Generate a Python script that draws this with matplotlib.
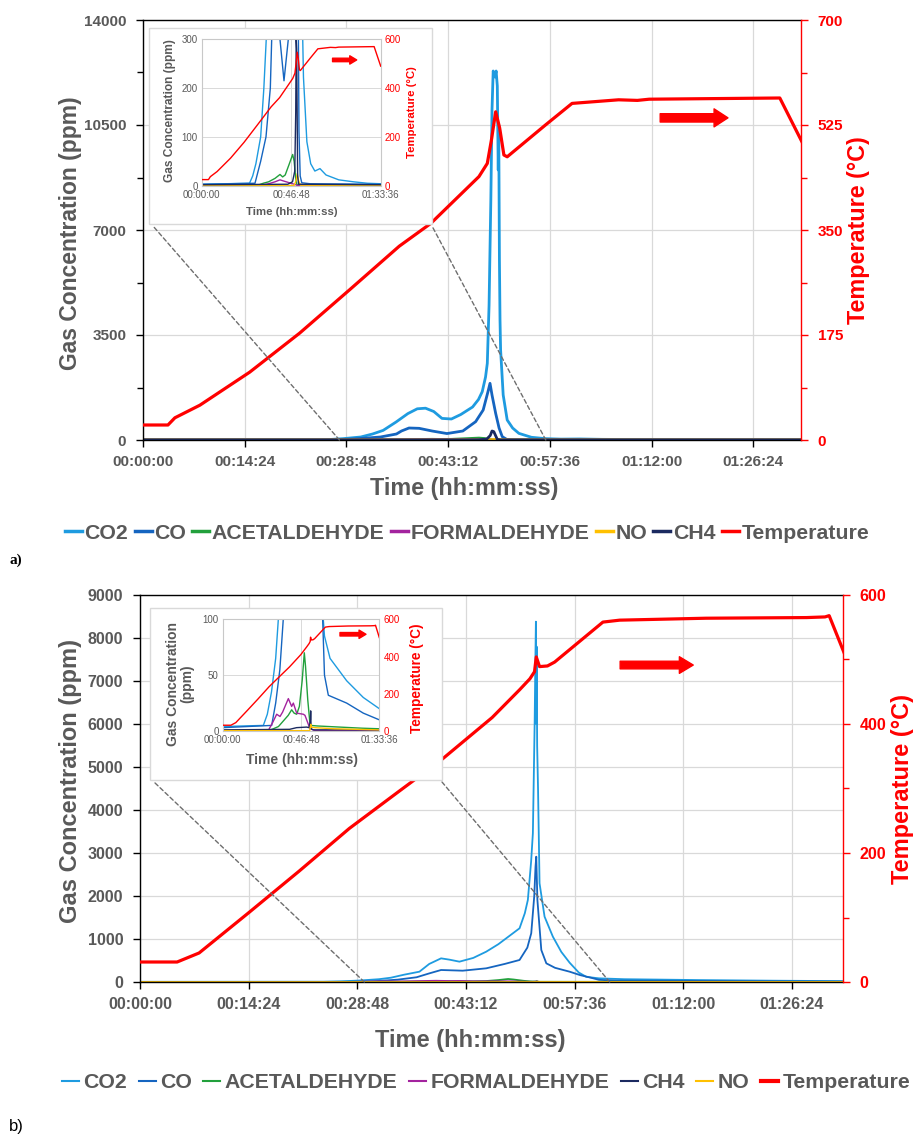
import matplotlib
matplotlib.use('Agg')
import matplotlib.pyplot as plt
from matplotlib.patches import Rectangle, ConnectionPatch
from matplotlib.lines import Line2D

# ---------------- DATA (time in seconds) ----------------
# Panel a
temp_a_t = [0, 212, 271, 483, 906, 1330, 1753, 2177, 2445, 2854, 2925, 2960, 2996, 3030, 3066, 3094,
            3419, 3645, 4040, 4200, 4300, 5410, 5616]
temp_a_v = [25, 25, 37, 58, 113, 178, 250, 323, 361, 439, 461, 500, 547, 520, 475, 472,
            525, 561, 567, 566, 568, 570, 490]

co2_a_t = [0, 1500, 1600, 1700, 1850, 1950, 2040, 2150, 2250, 2330, 2400, 2470, 2540, 2620, 2700,
           2800, 2850, 2882, 2910, 2925, 2940, 2955, 2965, 2975, 2990, 3000, 3010, 3018, 3022, 3028,
           3033, 3038, 3060, 3094, 3140, 3193, 3300, 3420, 3550, 3711, 3900, 4300, 4760, 5200, 5616]
co2_a_v = [3, 5, 20, 45, 100, 200, 320, 600, 880, 1040, 1060, 950, 720, 700, 850,
           1100, 1350, 1611, 2100, 2556, 4500, 8000, 11000, 12300, 12100, 12300, 11800, 9000, 10500, 6000,
           4000, 3000, 1500, 667, 400, 222, 90, 45, 30, 35, 22, 12, 8, 5, 4]

co_a_t = [0, 1672, 1850, 2017, 2153, 2196, 2260, 2346, 2456, 2582, 2717, 2826, 2890, 2930, 2948,
          2965, 2996, 3025, 3052, 3090, 3140, 3400, 5616]
co_a_v = [3, 5, 50, 100, 200, 300, 400, 389, 300, 215, 300, 611, 1000, 1600, 1889,
          1500, 889, 400, 111, 20, 6, 4, 3]

acet_a_t = [0, 1768, 1930, 2100, 2300, 2456, 2540, 2620, 2750, 2854, 2900, 2950, 2985, 3500, 5616]
acet_a_v = [1, 1, 5, 8, 15, 23, 18, 22, 45, 64, 50, 15, 2, 1, 1]

form_a_t = [0, 1850, 2100, 2300, 2456, 2600, 2800, 2950, 3000, 5616]
form_a_v = [0.5, 0.5, 4, 8, 12, 9, 5, 2, 0.5, 0.5]

no_a_t = [0, 2900, 2960, 3000, 3040, 3100, 5616]
no_a_v = [0.5, 0.5, 10, 25, 10, 1, 0.5]

ch4_a_t = [0, 2700, 2850, 2920, 2950, 2965, 2980, 2995, 3010, 3040, 5616]
ch4_a_v = [2, 3, 8, 30, 150, 300, 280, 150, 20, 3, 2]

# Panel b
temp_b_t = [0, 295, 470, 868, 1266, 1664, 2062, 2394, 2800, 3018, 3100, 3137, 3151, 3177, 3240, 3297,
            3681, 3814, 4500, 5300, 5447, 5480, 5616]
temp_b_v = [31, 31, 45, 108, 172, 238, 296, 344, 410, 453, 470, 481, 504, 489, 490, 496,
            558, 561, 564, 565, 566, 568, 502]

co2_b_t = [0, 1458, 1600, 1750, 1900, 1995, 2100, 2222, 2300, 2394, 2460, 2540, 2650, 2753, 2850,
           2912, 3018, 3060, 3084, 3110, 3124, 3138, 3144, 3148, 3151, 3154, 3158, 3165, 3177, 3217,
           3283, 3350, 3416, 3489, 3549, 3650, 3850, 4445, 5042, 5616]
co2_b_v = [4, 5, 15, 35, 65, 100, 170, 240, 420, 550, 520, 473, 560, 705, 880,
           1016, 1249, 1600, 1907, 2800, 3459, 6000, 7500, 8380, 6000, 7800, 5500, 4500, 2296, 1519,
           1054, 700, 450, 220, 120, 85, 65, 45, 30, 20]

co_b_t = [0, 1756, 1900, 2050, 2199, 2300, 2394, 2566, 2753, 2900, 3018, 3080, 3111, 3135, 3145,
          3151, 3160, 3191, 3231, 3300, 3416, 3500, 3585, 3650, 3788, 4445, 5042, 5616]
co_b_v = [3, 5, 25, 55, 110, 200, 279, 263, 318, 420, 512, 800, 1133, 2000, 2682,
          2914, 1907, 744, 434, 330, 240, 160, 100, 50, 32, 25, 16, 10]

acet_b_t = [0, 1700, 1816, 2000, 2175, 2350, 2473, 2560, 2653, 2750, 2850, 2927, 2970, 3050, 3120,
            3155, 3400, 4200, 5000, 5616]
acet_b_v = [0.5, 0.8, 2, 4, 9, 14, 19, 16, 15, 22, 45, 70, 58, 28, 9,
            5, 4.5, 3.5, 2.5, 2]

form_b_t = [0, 1637, 1800, 1936, 2055, 2150, 2354, 2473, 2533, 2653, 2892, 2951, 3131, 3300, 5616]
form_b_v = [0.5, 0.5, 8, 15, 13, 17, 29, 22, 25, 16, 15, 14, 2, 0.5, 0.3]

ch4_b_t = [0, 2400, 2650, 3011, 3100, 3145, 3155, 3170, 3250, 5616]
ch4_b_v = [1, 1.5, 3, 3.5, 3, 10, 18, 2, 1, 1]

no_b_t = [0, 3120, 3160, 3180, 3300, 4000, 5616]
no_b_v = [0.3, 0.3, 6, 3.5, 3, 2, 1]

# zoomed time windows marked by the dashed connectors
zoom_a = (1669, 3422)
zoom_b = (1784, 3735)

# ---------------- STYLE ----------------
W, H = 921, 1137
GRAY = '#595959'
GRID = '#D9D9D9'
C = {'CO2': '#1E9BE0', 'CO': '#1565C0', 'ACETALDEHYDE': '#22A03C', 'FORMALDEHYDE': '#A3239E',
     'NO': '#FFC000', 'CH4': '#1B2A60', 'Temperature': '#FF0000'}

plt.rcParams['font.family'] = ['Liberation Sans', 'DejaVu Sans']
fig = plt.figure(figsize=(W / 100, H / 100), dpi=100)


def px_axes(l, t, r, b, z):
    ax = fig.add_axes([l / W, 1 - b / H, (r - l) / W, (b - t) / H])
    ax.set_zorder(z)
    return ax


def hms(x):
    x = int(round(x))
    return f'{x // 3600:02d}:{(x % 3600) // 60:02d}:{x % 60:02d}'


def ftext(x, y, s, **kw):
    return fig.text(x / W, 1 - y / H, s, ha='center', va='center', **kw)


def draw_main(box, series, temp, xmax, ylim, ystep, yminor, tlim, tstep, tminor, lw_gas, tsize):
    l, t, r, b = box
    ax = px_axes(l, t, r, b, 1)
    for name, (xs, ys) in series:
        ax.plot(xs, ys, color=C[name], lw=lw_gas, solid_joinstyle='round')
    ax.set_xlim(0, xmax)
    ax.set_ylim(0, ylim)
    xt = list(range(0, int(xmax) + 1, 864))
    ax.set_xticks(xt, labels=[hms(v) for v in xt], fontsize=tsize, fontweight='bold', color=GRAY)
    yt = list(range(0, ylim + 1, ystep))
    ax.set_yticks(yt, labels=[str(v) for v in yt], fontsize=tsize, fontweight='bold', color=GRAY)
    if yminor:
        ax.set_yticks(list(range(0, ylim + 1, yminor)), minor=True)
    ax.grid(True, color=GRID, lw=0.9)
    ax.set_axisbelow(True)
    ax.tick_params(axis='y', which='major', length=5, width=1, pad=7)
    ax.tick_params(axis='y', which='minor', length=4, width=1)
    ax.tick_params(axis='x', which='major', length=5, width=1, pad=6)
    for s in ['left', 'bottom', 'top']:
        ax.spines[s].set_color('black')
        ax.spines[s].set_linewidth(1)
    ax.spines['right'].set_visible(False)

    ax2 = ax.twinx()
    ax2.set_zorder(2)
    ax2.plot(temp[0], temp[1], color=C['Temperature'], lw=2.3, solid_joinstyle='round')
    ax2.set_ylim(0, tlim)
    tt = list(range(0, tlim + 1, tstep))
    ax2.set_yticks(tt, labels=[str(v) for v in tt], fontsize=tsize, fontweight='bold', color='red')
    ax2.set_yticks([v * tminor for v in range(0, int(tlim / tminor) + 1)], minor=True)
    ax2.tick_params(axis='y', which='both', colors='red', length=5, width=1, pad=7)
    ax2.tick_params(axis='y', which='minor', length=4)
    for lbl in ax2.get_yticklabels():
        lbl.set_color('red')
    for s in ['left', 'bottom', 'top']:
        ax2.spines[s].set_visible(False)
    ax2.spines['right'].set_color('red')
    ax2.spines['right'].set_linewidth(1)
    return ax, ax2


def draw_inset(box, plot, series, temp, ylim, yticks, lw_gas):
    bl, bt, br, bb = box
    fig.add_artist(Rectangle((bl / W, 1 - bb / H), (br - bl) / W, (bb - bt) / H, transform=fig.transFigure,
                             facecolor='white', edgecolor=GRID, lw=1.0, zorder=3))
    l, t, r, b = plot
    ax = px_axes(l, t, r, b, 4)
    for name, (xs, ys) in series:
        ax.plot(xs, ys, color=C[name], lw=lw_gas)
    ax.set_xlim(0, 5616)
    ax.set_ylim(0, ylim)
    xt = [0, 2808, 5616]
    ax.set_xticks(xt, labels=[hms(v) for v in xt], fontsize=7, color=GRAY)
    ax.set_yticks(yticks, labels=[str(v) for v in yticks], fontsize=7, color=GRAY)
    ax.grid(True, color=GRID, lw=0.7)
    ax.set_axisbelow(True)
    ax.tick_params(length=0, pad=3)
    for s in ax.spines.values():
        s.set_color('#C8C8C8')
        s.set_linewidth(0.8)
    ax2 = ax.twinx()
    ax2.set_zorder(5)
    ax2.plot(temp[0], temp[1], color=C['Temperature'], lw=1.0)
    ax2.set_ylim(0, 600)
    ax2.set_yticks([0, 200, 400, 600], labels=['0', '200', '400', '600'], fontsize=7, color='red')
    ax2.tick_params(length=0, pad=3, colors='red')
    for s in ax2.spines.values():
        s.set_visible(False)
    return ax, ax2


def arrow(ax, x0, x1, y, width, hw, hl):
    ax.annotate('', xy=(x1, y), xytext=(x0, y), xycoords='axes fraction', textcoords='axes fraction',
                arrowprops=dict(facecolor='red', edgecolor='red', width=width, headwidth=hw,
                                headlength=hl, shrink=0), zorder=10)


def connectors(ax, zoom, box):
    bl, bt, br, bb = box
    for tt, (px, py) in zip(zoom, [(bl + 4, bb + 2), (br, bb + 2)]):
        con = ConnectionPatch(xyA=(tt, 0), coordsA=ax.transData, xyB=(px / W, 1 - py / H),
                              coordsB=fig.transFigure, linestyle=(0, (3, 2)), color='#6E6E6E', lw=1.0,
                              zorder=2.5)
        fig.add_artist(con)


# ---------------- PANEL a ----------------
order_a = ['CO2', 'CO', 'ACETALDEHYDE', 'FORMALDEHYDE', 'NO', 'CH4']
ser_a = dict(CO2=(co2_a_t, co2_a_v), CO=(co_a_t, co_a_v), ACETALDEHYDE=(acet_a_t, acet_a_v),
             FORMALDEHYDE=(form_a_t, form_a_v), NO=(no_a_t, no_a_v), CH4=(ch4_a_t, ch4_a_v))
series_a = [(n, ser_a[n]) for n in order_a]
axA, axA2 = draw_main((143, 20, 801, 440), series_a, (temp_a_t, temp_a_v), 5590, 14000, 3500, 1750,
                      700, 175, 87.5, 2.0, 11)
arrow(axA2, 0.786, 0.889, 0.767, 6, 13, 10)
box_a = (149, 28, 432, 224)
connectors(axA, zoom_a, box_a)
inA, inA2 = draw_inset(box_a, (201.7, 39.3, 380.7, 185.7), series_a, (temp_a_t, temp_a_v), 300,
                       [0, 100, 200, 300], 1.0)
arrow(inA2, 0.731, 0.866, 0.859, 2.5, 6, 5)
ftext(170, 111, 'Gas Concentration (ppm)', rotation=90, fontsize=8.6, fontweight='bold', color=GRAY, zorder=6)
ftext(412, 112, 'Temperature (°C)', rotation=90, fontsize=8.2, fontweight='bold', color='red', zorder=6)
ftext(292, 212, 'Time (hh:mm:ss)', fontsize=8.2, fontweight='bold', color=GRAY, zorder=6)

ftext(71, 233, 'Gas Concentration (ppm)', rotation=90, fontsize=16.5, fontweight='bold', color=GRAY)
ftext(858, 230, 'Temperature (°C)', rotation=90, fontsize=16.8, fontweight='bold', color='red')
ftext(464, 488, 'Time (hh:mm:ss)', fontsize=16.8, fontweight='bold', color=GRAY)

legfont = dict(family=['Liberation Sans', 'DejaVu Sans'], weight='bold', size=15.3)
leg_labels_a = order_a + ['Temperature']
hA = [Line2D([], [], color=C[n], lw=2.5) for n in leg_labels_a]
fig.legend(hA, leg_labels_a, loc='center', bbox_to_anchor=(467 / W, 1 - 533 / H), ncol=7, frameon=False,
           prop=legfont, handlelength=0.8, handletextpad=0.12, columnspacing=0.3, labelcolor=GRAY,
           borderaxespad=0, borderpad=0)
ftext(16, 560, 'a)', fontsize=11, fontweight='bold', family=['Liberation Serif', 'DejaVu Serif'], color='black')

# ---------------- PANEL b ----------------
order_b = ['CO2', 'CO', 'ACETALDEHYDE', 'FORMALDEHYDE', 'CH4', 'NO']
ser_b = dict(CO2=(co2_b_t, co2_b_v), CO=(co_b_t, co_b_v), ACETALDEHYDE=(acet_b_t, acet_b_v),
             FORMALDEHYDE=(form_b_t, form_b_v), NO=(no_b_t, no_b_v), CH4=(ch4_b_t, ch4_b_v))
series_b = [(n, ser_b[n]) for n in order_b]
axB, axB2 = draw_main((140, 595, 843, 982), series_b, (temp_b_t, temp_b_v), 5590, 9000, 1000, None,
                      600, 200, 100, 1.3, 11.5)
arrow(axB2, 0.683, 0.787, 0.819, 5.5, 12, 10)
box_b = (150, 608, 442, 780)
connectors(axB, zoom_b, box_b)
inB, inB2 = draw_inset(box_b, (222.7, 619.3, 379.3, 731), series_b, (temp_b_t, temp_b_v), 100,
                       [0, 50, 100], 1.0)
arrow(inB2, 0.749, 0.915, 0.866, 2.5, 6, 5)
ftext(180, 684, 'Gas Concentration\n(ppm)', rotation=90, fontsize=10, fontweight='bold', color=GRAY,
      zorder=6, linespacing=1.0)
ftext(417, 678, 'Temperature (°C)', rotation=90, fontsize=9.8, fontweight='bold', color='red', zorder=6)
ftext(302, 760, 'Time (hh:mm:ss)', fontsize=10, fontweight='bold', color=GRAY, zorder=6)

ftext(70, 781, 'Gas Concentration (ppm)', rotation=90, fontsize=17, fontweight='bold', color=GRAY)
ftext(902, 789, 'Temperature (°C)', rotation=90, fontsize=17, fontweight='bold', color='red')
ftext(470, 1041, 'Time (hh:mm:ss)', fontsize=17, fontweight='bold', color=GRAY)

leg_labels_b = order_b + ['Temperature']
hB = [Line2D([], [], color=C[n], lw=1.5 if n != 'Temperature' else 3) for n in leg_labels_b]
fig.legend(hB, leg_labels_b, loc='center', bbox_to_anchor=(486 / W, 1 - 1083 / H), ncol=7, frameon=False,
           prop=legfont, handlelength=0.8, handletextpad=0.2, columnspacing=0.55, labelcolor=GRAY,
           borderaxespad=0, borderpad=0)
ftext(16, 1127, 'b)', fontsize=12, color='black')

fig.savefig('out.png', dpi=100)
